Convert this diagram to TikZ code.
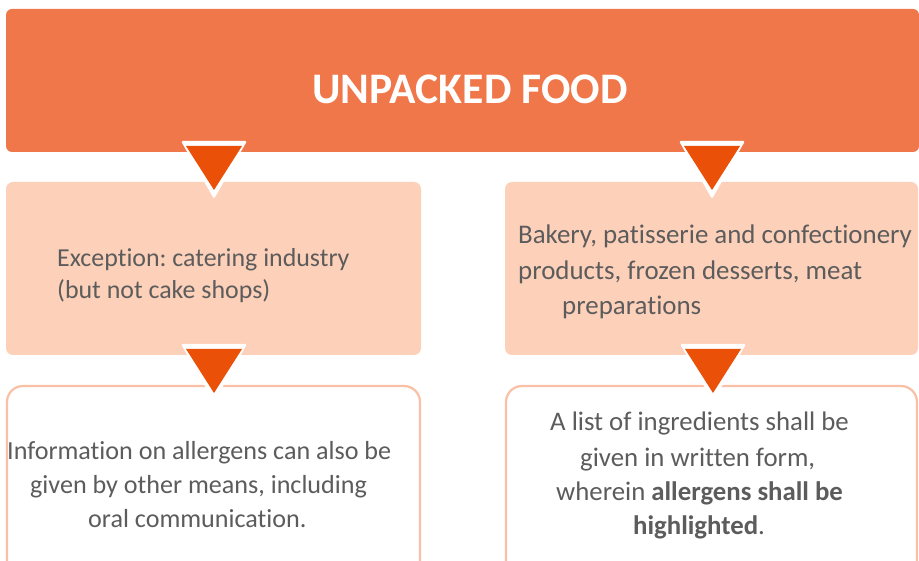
\documentclass[tikz,border=0pt]{standalone}
\usepackage{fontspec}
\setmainfont{Carlito}[Ligatures=NoCommon]
\usetikzlibrary{calc}
\frenchspacing
\definecolor{topc}{RGB}{239,119,73}
\definecolor{midc}{RGB}{253,208,185}
\definecolor{edgec}{RGB}{250,192,165}
\definecolor{arrc}{RGB}{234,80,8}
\definecolor{txtc}{RGB}{92,92,92}
\tikzset{
  topbox/.style={fill=topc, rounded corners=6pt},
  midbox/.style={fill=midc, rounded corners=7pt},
  botbox/.style={draw=edgec, line width=2.2pt, fill=white, rounded corners=16pt},
  body/.style={inner sep=0pt, text=txtc, anchor=base west},
  tri/.pic={
    \fill[white, rounded corners=1.5pt] (-33,0) -- (33,0) -- (0,58) -- cycle;
    \fill[arrc] (-28,5) -- (28,5) -- (0,49) -- cycle;
  }
}
\begin{document}
\begin{tikzpicture}[x=1pt,y=-1pt]
\useasboundingbox (0,0) rectangle (919,561);
\clip (0,0) rectangle (919,561);
% boxes
\path[topbox] (6,9) rectangle (919,152);
\node[inner sep=0pt, font=\fontsize{43.6}{50}\bfseries\selectfont, text=white, anchor=base] (title) at (470,104) {UNPACKED FOOD};
\path[midbox] (6,182) rectangle (421,355);
\path[midbox] (505,182) rectangle (918,355);
\path[botbox] (7,386) rectangle (420,600);
\path[botbox] (506,386) rectangle (917,600);
% triangles
\pic at (214,141) {tri};
\pic at (712,141) {tri};
\pic at (214,344) {tri};
\pic at (713,344) {tri};
% mid texts
\begin{scope}[every node/.append style={font=\fontsize{25.9}{30}\selectfont}]
\node[body] (ml1) at (57,267) {Exception: catering industry};
\node[body] (ml2) at (57,299) {(but not cake shops)};
\end{scope}
\begin{scope}[every node/.append style={font=\fontsize{26.9}{30}\selectfont}]
\node[body] (mr1) at (518,244) {Bakery, patisserie and confectionery};
\node[body] (mr2) at (518,280) {products, frozen desserts, meat};
\node[body] (mr3) at (562,315) {preparations};
\end{scope}
% bottom texts
\begin{scope}[every node/.append style={font=\fontsize{26.1}{30}\selectfont}]
\node[body] (bl1) at (7,459) {Information on allergens can also be};
\node[body] (bl2) at (30,493) {given by other means, including};
\node[body] (bl3) at (88,527) {oral communication.};
\end{scope}
\begin{scope}[every node/.append style={font=\fontsize{26.8}{30}\selectfont}]
\node[body] (br1) at (550,431) {A list of ingredients shall be};
\node[body] (br2) at (580,466) {given in written form,};
\node[body] (br3) at (556,500) {wherein \textbf{allergens shall be}};
\node[body] (br4) at (633,534) {\textbf{highlighted}.};
\end{scope}
\end{tikzpicture}
\end{document}
